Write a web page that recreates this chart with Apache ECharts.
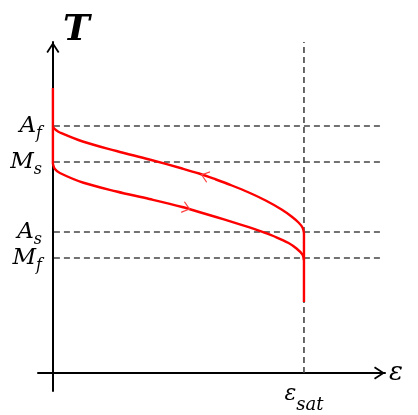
<!DOCTYPE html>
<html>
<head>
<meta charset="utf-8">
<script src="https://cdn.jsdelivr.net/npm/echarts@6/dist/echarts.min.js"></script>
<style>html,body{margin:0;padding:0;background:#fff}#c{width:418px;height:415px}</style>
</head>
<body>
<div id="c"></div>
<script>
// ---- data (strain ε and temperature T, arbitrary units) ----
const epsSat = 252.5;
const levelNames = ['M_f', 'A_s', 'M_s', 'A_f'];
const levelTemps = [115, 141, 211, 247];
const xRange = [-15, 334];
const yRange = [-18, 331];
const dashEnd = 332;

// upper branch (arrow pointing left)
const upperCurve = [[0,246],[3,243],[7,240.5],[30,231.5],[64,222],[97,213.5],[130,204.5],[147,199.5],[164,193.5],[180,187.5],[197,180.5],[214,172.5],[230,163.5],[240,156.5],[247,150.5],[251,145.5],[252.5,140]];
// lower branch (arrow pointing right)
const lowerCurve = [[0,209],[2,204],[7,200],[30,190.5],[64,181.5],[97,174],[130,166],[147,161],[164,156],[180,151.2],[197,145.8],[210,141.3],[224,136],[237,130],[245,124.5],[251,118.5],[252.5,113]];
const leftBranch = [[0,285],[0,209]];
const rightBranch = [[252.5,140],[252.5,71]];
const arrowMarks = [[153,197],[134,165]];
const arrowDirs = ['left','right'];
const arrowAngles = [-18,-17];

const arrowPath = 'path://M6.5,0 L13,10 L11.5,11 L6.5,3.2 L1.5,11 L0,10 Z';
const chevLeft = 'path://M7,0 L0,5.5 L7,11';
const chevRight = 'path://M0,0 L7,5.5 L0,11';
const serif = 'DejaVu Serif';
const red = '#ff0000';
const dashStyle = {type:[6,4], color:'#444', width:1.6};

const chart = echarts.init(document.getElementById('c'), null, {renderer:'canvas'});

function yLabel(v){
  for (let i=0;i<levelTemps.length;i++){
    if (Math.abs(levelTemps[i]-v) < 0.5){
      const p = levelNames[i].split('_');
      return '{m|' + p[0] + '}{s|' + p[1] + '}';
    }
  }
  return '';
}

const series = [];
levelTemps.forEach(function(t){
  series.push({type:'line', data:[[1,t],[dashEnd,t]], symbol:'none', silent:true, z:2, lineStyle:dashStyle});
});
series.push({type:'line', data:[[epsSat,0],[epsSat,yRange[1]]], symbol:'none', silent:true, z:2, lineStyle:dashStyle});
[leftBranch, rightBranch].forEach(function(d){
  series.push({type:'line', data:d, symbol:'none', silent:true, z:4, lineStyle:{color:red, width:2.4}});
});
[upperCurve, lowerCurve].forEach(function(d){
  series.push({type:'line', data:d, symbol:'none', smooth:0.35, silent:true, z:4, lineStyle:{color:red, width:2.4}});
});
series.push({
  type:'scatter', silent:true, z:5,
  data: arrowMarks.map(function(p,i){
    return {value:p, symbol: arrowDirs[i]==='left'?chevLeft:chevRight, symbolRotate:arrowAngles[i]};
  }),
  symbolSize:[7,11],
  itemStyle:{color:'transparent', borderColor:'#ff4040', borderWidth:1.1, opacity:1}
});

chart.setOption({
  animation:false,
  backgroundColor:'#fff',
  grid:{left:38, right:33, top:42, bottom:24, containLabel:false, outerBoundsMode:'none'},
  xAxis:{
    type:'value', min:xRange[0], max:xRange[1],
    axisLine:{onZero:true, lineStyle:{color:'#000', width:2}, symbol:['none', arrowPath], symbolSize:[13,11], symbolOffset:[0,-5.5]},
    axisTick:{show:false}, splitLine:{show:false},
    axisLabel:{
      customValues:[epsSat], margin:-3, hideOverlap:false, showMinLabel:true, showMaxLabel:true,
      formatter:function(){ return '{m|ε}{s|sat}'; },
      rich:{
        m:{fontFamily:serif, fontStyle:'italic', fontSize:22, lineHeight:22, padding:[0,0,9,0], color:'#000'},
        s:{fontFamily:serif, fontStyle:'italic', fontSize:18, lineHeight:18, padding:[13,0,0,0], color:'#000'}
      }
    },
    name:'ε', nameLocation:'end', nameGap:4,
    nameTextStyle:{fontFamily:serif, fontStyle:'italic', fontSize:26, color:'#000', align:'left', verticalAlign:'middle', padding:[0,0,5,0]}
  },
  yAxis:{
    type:'value', min:yRange[0], max:yRange[1],
    axisLine:{onZero:true, lineStyle:{color:'#000', width:2}, symbol:['none', arrowPath], symbolSize:[13,11], symbolOffset:[0,-5.5]},
    axisTick:{show:false}, splitLine:{show:false},
    axisLabel:{
      customValues:[yRange[0]].concat(levelTemps, [yRange[1]]), margin:-4, hideOverlap:false, showMinLabel:true, showMaxLabel:true,
      formatter:yLabel,
      rich:{
        m:{fontFamily:serif, fontStyle:'italic', fontSize:23, lineHeight:20, color:'#000'},
        s:{fontFamily:serif, fontStyle:'italic', fontSize:16, lineHeight:4, padding:[16,0,0,0], color:'#000'}
      }
    },
    name:'T', nameLocation:'end', nameGap:-7,
    nameTextStyle:{fontFamily:serif, fontStyle:'italic', fontWeight:'bold', fontSize:36, lineHeight:36, color:'#000', align:'left', verticalAlign:'bottom', padding:[0,0,0,10]}
  },
  series:series
});
</script>
</body>
</html>
